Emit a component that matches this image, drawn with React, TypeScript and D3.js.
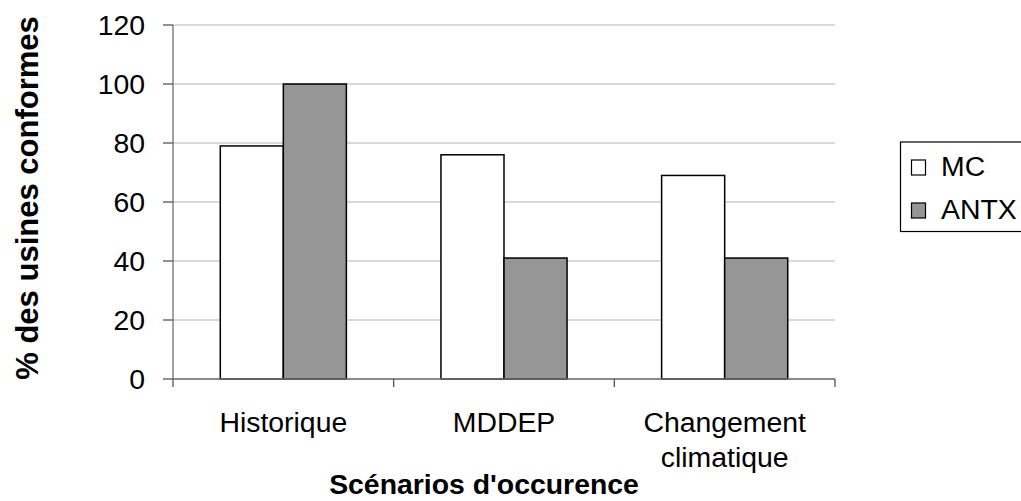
import React from "react";
import * as d3 from "d3";

// Scenario categories and series values (% of compliant plants)
const categories: string[][] = [["Historique"], ["MDDEP"], ["Changement", "climatique"]];
const seriesNames = ["MC", "ANTX"];
const mcValues = [79, 76, 69];
const antxValues = [100, 41, 41];
const yTicks = [0, 20, 40, 60, 80, 100, 120];
const seriesFills = ["#ffffff", "#969696"];

const W = 1021;
const H = 501;
const plot = { left: 173, right: 835, top: 25, bottom: 379 };
const FONT = "'Liberation Sans', Arial, sans-serif";
const FS = 28.4;

function HText({ x, y, anchor, size, weight, children }: any) {
  return (
    <text
      x={x}
      y={y}
      textAnchor={anchor}
      fontFamily={FONT}
      fontSize={size}
      fontWeight={weight || "normal"}
      fill="#000"
    >
      {children}
    </text>
  );
}

export default function App() {
  const keys = categories.map((c) => c.join(" "));
  const x = d3.scaleBand<string>().domain(keys).range([plot.left, plot.right]).padding(0);
  const xs = d3
    .scaleBand<string>()
    .domain(seriesNames)
    .range([0, x.bandwidth()])
    .paddingInner(0)
    .paddingOuter(0.75);
  const y = d3.scaleLinear().domain([0, 120]).range([plot.bottom, plot.top]);
  const values = [mcValues, antxValues];

  const boundaries = [plot.left, ...keys.map((k) => (x(k) as number) + x.bandwidth())];

  return (
    <svg
      width={W}
      height={H}
      style={{ position: "absolute", left: 0, top: 0, background: "#fff" }}
    >
      <rect width={W} height={H} fill="#fff" />
      {/* horizontal gridlines */}
      {yTicks.map((t) => (
        <line
          key={"g" + t}
          x1={plot.left}
          x2={plot.right}
          y1={y(t)}
          y2={y(t)}
          stroke="#b4b4b4"
          strokeWidth={1.2}
        />
      ))}
      {/* bars */}
      {keys.map((k, ci) =>
        seriesNames.map((s, si) => {
          const bx = (x(k) as number) + (xs(s) as number);
          const v = values[si][ci];
          return (
            <rect
              key={k + s}
              x={bx}
              y={y(v)}
              width={xs.bandwidth()}
              height={y(0) - y(v)}
              fill={seriesFills[si]}
              stroke="#000"
              strokeWidth={1.5}
            />
          );
        })
      )}
      {/* axes */}
      <line x1={plot.left} x2={plot.left} y1={plot.top} y2={plot.bottom} stroke="#707070" strokeWidth={1.3} />
      <line x1={plot.left} x2={plot.right} y1={plot.bottom} y2={plot.bottom} stroke="#707070" strokeWidth={1.3} />
      {yTicks.map((t) => (
        <g key={"t" + t}>
          <line x1={plot.left - 10} x2={plot.left} y1={y(t)} y2={y(t)} stroke="#555" strokeWidth={1.3} />
          <HText x={145} y={y(t) + 10} anchor="end" size={FS}>
            {t}
          </HText>
        </g>
      ))}
      {boundaries.map((b, i) => (
        <line key={"xt" + i} x1={b} x2={b} y1={plot.bottom} y2={plot.bottom + 8} stroke="#555" strokeWidth={1.3} />
      ))}
      {/* category labels */}
      {categories.map((lines, ci) =>
        lines.map((ln, li) => (
          <HText
            key={ci + "-" + li}
            x={(x(keys[ci]) as number) + x.bandwidth() / 2}
            y={432 + li * 35}
            anchor="middle"
            size={FS}
          >
            {ln}
          </HText>
        ))
      )}
      {/* axis titles */}
      <HText x={484} y={494} anchor="middle" size={FS} weight="bold">
        Scénarios d'occurence
      </HText>
      <text
        transform="translate(38,198) rotate(-90)"
        textAnchor="middle"
        fontFamily={FONT}
        fontSize={31}
        fontWeight="bold"
        fill="#000"
      >
        % des usines conformes
      </text>
      {/* legend */}
      <rect x={900.5} y={142} width={140} height={89.5} fill="#fff" stroke="#000" strokeWidth={1.2} />
      {seriesNames.map((s, i) => (
        <g key={"l" + s}>
          <rect x={911.5} y={160 + i * 43} width={14} height={15} fill={seriesFills[i]} stroke="#000" strokeWidth={1.2} />
          <HText x={941} y={176 + i * 43} anchor="start" size={FS}>
            {s}
          </HText>
        </g>
      ))}
    </svg>
  );
}
